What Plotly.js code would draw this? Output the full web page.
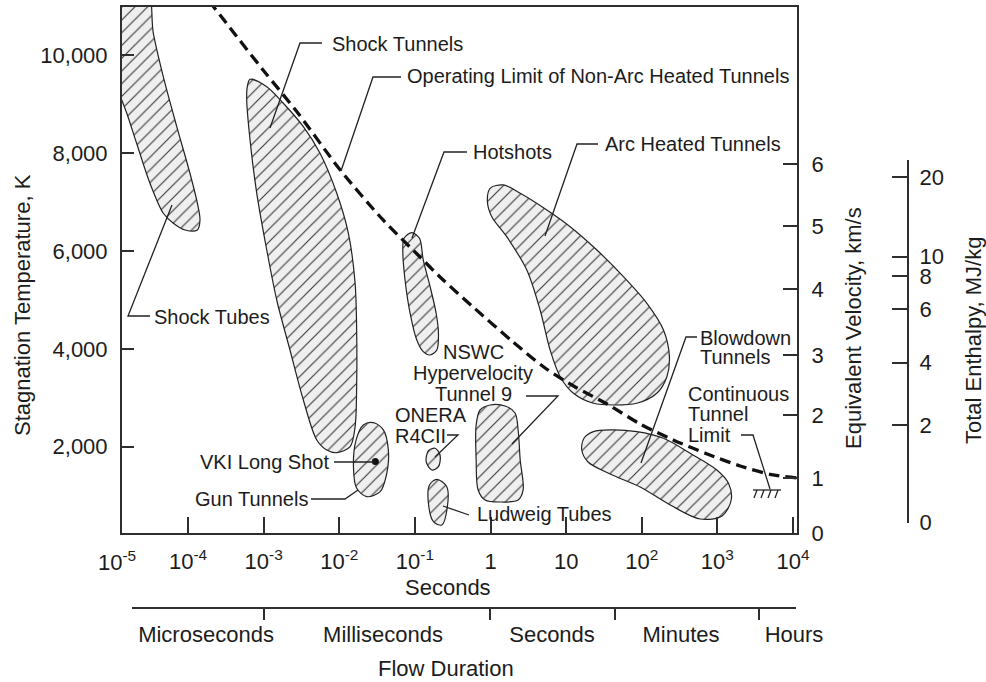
<!DOCTYPE html>
<html>
<head>
<meta charset="utf-8">
<script src="https://cdn.plot.ly/plotly-3.0.1.min.js"></script>
<style>
  html, body { margin: 0; padding: 0; background: #ffffff; }
  #chart { width: 986px; height: 682px; }
</style>
</head>
<body>
<div id="chart"></div>
<script>
// ---------------------------------------------------------------------------
// Test-facility operating envelopes: flow duration (s) vs stagnation temperature (K)
// ---------------------------------------------------------------------------
const shockTubesSec = [9.3e-6, 2.78e-5, 3.48e-5, 4.71e-5, 7.10e-5, 1.06e-4, 1.33e-4, 1.44e-4, 1.33e-4, 9.12e-5, 6.40e-5, 4.71e-5, 3.14e-5, 2.09e-5, 1.55e-5, 1.33e-5, 9.3e-6, 9.3e-6];
const shockTubesK   = [11430, 11430, 10443, 9557, 8536, 7585, 6972, 6631, 6427, 6427, 6564, 6768, 7380, 8197, 8810, 9081, 9694, 11430];

const shockTunnelsSec = [6.61e-4, 1.10e-3, 1.82e-3, 3.35e-3, 5.57e-3, 9.27e-3, 1.32e-2, 1.62e-2, 1.70e-2, 1.70e-2, 1.62e-2, 1.39e-2, 9.27e-3, 6.84e-3, 5.04e-3, 3.35e-3, 2.23e-3, 1.49e-3, 1.10e-3, 8.11e-4, 6.61e-4, 5.97e-4, 6.08e-4, 6.61e-4];
const shockTunnelsK   = [9504, 9353, 9014, 8536, 7993, 7176, 6359, 5338, 4317, 3296, 2410, 2002, 1879, 1934, 2139, 2955, 3976, 4997, 6018, 7176, 8265, 9081, 9353, 9504];

const hotshotsSec = [9.10e-2, 0.115, 0.129, 0.159, 0.191, 0.205, 0.195, 0.159, 0.129, 0.106, 8.65e-2, 7.41e-2, 6.92e-2, 7.19e-2, 9.10e-2];
const hotshotsK   = [6372, 6257, 5814, 5269, 4726, 4317, 3976, 3874, 3942, 4181, 4726, 5406, 6018, 6257, 6372];

const gunTunnelsSec = [2.82e-2, 3.83e-2, 4.46e-2, 4.25e-2, 3.47e-2, 2.31e-2, 1.70e-2, 1.54e-2, 1.67e-2, 2.08e-2, 2.82e-2];
const gunTunnelsK   = [2492, 2343, 1934, 1459, 1083, 981, 1152, 1593, 2139, 2445, 2492];

const vkiLongShotSec = [0.03];
const vkiLongShotK   = [1700];

const oneraSec = [0.185, 0.215, 0.205, 0.167, 0.141, 0.151, 0.185];
const oneraK   = [1969, 1832, 1593, 1526, 1695, 1920, 1969];

const ludwiegSec = [0.195, 0.264, 0.269, 0.227, 0.176, 0.151, 0.156, 0.195];
const ludwiegK   = [1336, 1185, 777, 403, 470, 846, 1220, 1336];

const tunnel9Sec = [0.989, 1.56, 2.11, 2.32, 2.47, 2.70, 2.32, 1.34, 0.849, 0.686, 0.646, 0.646, 0.728, 0.989];
const tunnel9K   = [2853, 2833, 2690, 2343, 1730, 1118, 913, 872, 913, 1118, 1730, 2445, 2751, 2853];

const arcHeatedSec = [0.989, 1.48, 2.47, 5.56, 11.3, 25.5, 57.3, 117, 194, 232, 215, 158, 86.1, 42.3, 23.0, 12.5, 8.34, 6.14, 4.53, 3.02, 1.64, 1.04, 0.910, 0.989];
const arcHeatedK   = [7278, 7346, 7176, 6835, 6494, 6018, 5473, 4930, 4385, 3840, 3431, 3092, 2888, 2853, 2888, 3092, 3431, 3976, 4793, 5610, 6290, 6698, 7005, 7278];

const blowdownSec = [23.0, 38.2, 86.1, 194, 437, 984, 1403, 1524, 1156, 592, 238, 95.3, 38.2, 19.5, 16.1, 17.3, 23.0];
const blowdownK   = [2308, 2343, 2308, 2173, 1867, 1526, 1254, 913, 587, 525, 811, 1179, 1444, 1689, 1934, 2179, 2308];

// Operating limit of non-arc heated tunnels
const limitSec = [1.90e-4, 3.60e-4, 9.82e-4, 2.77e-3, 1.03e-2, 3.80e-2, 0.117, 0.215, 0.589, 1.99, 5.27, 13.2, 34.8, 95.3, 260, 733, 2004, 5470, 11300];
const limitK   = [11103, 10552, 9694, 8836, 7652, 6631, 5875, 5467, 4854, 4140, 3609, 3221, 2874, 2465, 2139, 1853, 1608, 1424, 1363];

// ---------------------------------------------------------------------------
// Axis ticks
// ---------------------------------------------------------------------------
const durationTicks    = [1e-4, 1e-3, 1e-2, 1e-1, 1, 10, 100, 1000, 10000];
const durationTickText = ['10<sup>-4</sup>', '10<sup>-3</sup>', '10<sup>-2</sup>', '10<sup>-1</sup>', '1', '10', '10<sup>2</sup>', '10<sup>3</sup>', '10<sup>4</sup>'];
const firstDecadeText  = '10<sup>-5</sup>';

const temperatureTicks    = [2000, 4000, 6000, 8000, 10000];
const temperatureTickText = ['2,000', '4,000', '6,000', '8,000', '10,000'];

// equivalent velocity (km/s) and total enthalpy (MJ/kg) at their stagnation temperatures
const velocityTickText = ['0', '1', '2', '3', '4', '5', '6'];
const velocityTickK    = [240, 1356, 2649, 3874, 5216, 6508, 7768];
const enthalpyTickText = ['0', '2', '4', '6', '8', '10', '20'];
const enthalpyTickK    = [450, 2445, 3717, 4807, 5487, 5882, 7503];

// flow-duration bands
const flowBoundarySec = [1e-3, 1, 45, 3600];
const flowBandText    = ['Microseconds', 'Milliseconds', 'Seconds', 'Minutes', 'Hours'];
const flowBandSec     = [1.73e-4, 3.79e-2, 6.53, 332, 10370];

// ---------------------------------------------------------------------------
// Page geometry (pixels -> paper fractions for callouts)
// ---------------------------------------------------------------------------
const W = 986, H = 682;
const M = { l: 122, r: 74, t: 7, b: 70 };
const PW = W - M.l - M.r, PH = H - M.t - M.b;
const fx = p => (p - M.l) / PW;
const fy = p => (H - M.b - p) / PH;

const INK = '#1c1c1c';
const AXIS = '#2e2e2e';
const FONT = 'Liberation Sans, Arial, Helvetica, sans-serif';

const hatch = { shape: '/', size: 9, solidity: 0.13, fgcolor: '#3c3c3c', bgcolor: '#efefef', fillmode: 'replace' };

function region(name, sec, k) {
  return {
    type: 'scatter', mode: 'lines', name: name, x: sec, y: k,
    fill: 'toself', fillcolor: '#efefef', fillpattern: hatch,
    line: { color: '#222222', width: 1.2, shape: 'spline', smoothing: 0.9 },
    hoverinfo: 'name', showlegend: false
  };
}

const traces = [
  region('Shock Tubes', shockTubesSec, shockTubesK),
  region('Shock Tunnels', shockTunnelsSec, shockTunnelsK),
  region('Hotshots', hotshotsSec, hotshotsK),
  region('Gun Tunnels', gunTunnelsSec, gunTunnelsK),
  region('ONERA R4CII', oneraSec, oneraK),
  region('Ludweig Tubes', ludwiegSec, ludwiegK),
  region('NSWC Hypervelocity Tunnel 9', tunnel9Sec, tunnel9K),
  region('Arc Heated Tunnels', arcHeatedSec, arcHeatedK),
  region('Blowdown Tunnels', blowdownSec, blowdownK),
  {
    type: 'scatter', mode: 'lines', name: 'Operating Limit of Non-Arc Heated Tunnels',
    x: limitSec, y: limitK,
    line: { color: '#111111', width: 3.3, dash: '11px,6px', shape: 'spline', smoothing: 0.8 },
    showlegend: false
  },
  {
    type: 'scatter', mode: 'markers', name: 'VKI Long Shot',
    x: vkiLongShotSec, y: vkiLongShotK,
    marker: { size: 7, color: '#111111' }, showlegend: false
  },
  // carriers for the secondary scales
  { type: 'scatter', x: [], y: [], xaxis: 'x', yaxis: 'y2', showlegend: false, hoverinfo: 'skip' },
  { type: 'scatter', x: [], y: [], xaxis: 'x', yaxis: 'y3', showlegend: false, hoverinfo: 'skip' },
  { type: 'scatter', x: [], y: [], xaxis: 'x2', yaxis: 'y', showlegend: false, hoverinfo: 'skip' },
  { type: 'scatter', x: [], y: [], xaxis: 'x3', yaxis: 'y', showlegend: false, hoverinfo: 'skip' }
];

// ---------------------------------------------------------------------------
// Callouts: label lines (pixel anchor) and leader polylines
// ---------------------------------------------------------------------------
const callouts = [
  { lines: [['Shock Tubes', 317]], x: 152, anchor: 'left', leader: [[150, 316], [128, 316], [172, 205]] },
  { lines: [['Shock Tunnels', 44]], x: 330, anchor: 'left', leader: [[322, 43], [300, 43], [270, 128]] },
  { lines: [['Operating Limit of Non-Arc Heated Tunnels', 76]], x: 405, anchor: 'left', leader: [[401, 77], [373, 77], [341, 171]] },
  { lines: [['Hotshots', 152]], x: 471, anchor: 'left', leader: [[467, 152], [444, 152], [412, 238]] },
  { lines: [['Arc Heated Tunnels', 144]], x: 603, anchor: 'left', leader: [[598, 144], [577, 144], [545, 236]] },
  { lines: [['Blowdown', 338], ['Tunnels', 357]], x: 698, anchor: 'left', leader: [[697, 337], [686, 337], [641, 463]] },
  { lines: [['Continuous', 394], ['Tunnel', 414], ['Limit', 435]], x: 686, anchor: 'left', leader: [[741, 435], [753, 435], [770, 489]] },
  { lines: [['NSWC', 352], ['Hypervelocity', 373], ['Tunnel 9', 394]], x: 473, anchor: 'center', leader: [[526, 396], [558, 396], [512, 444]] },
  { lines: [['ONERA', 415], ['R4CII', 436]], x: 393, anchor: 'left', leader: [[447, 435], [458, 435], [435, 457]] },
  { lines: [['Ludweig Tubes', 514]], x: 475, anchor: 'left', leader: [[469, 515], [443, 506]] },
  { lines: [['VKI Long Shot', 462]], x: 331, anchor: 'right', leader: [[334, 462], [375, 462]] },
  { lines: [['Gun Tunnels', 499]], x: 193, anchor: 'left', leader: [[311, 499], [345, 499], [358, 490]] }
];

// ground symbol marking the continuous-tunnel limit
const groundSymbol = [
  [[753, 490], [781, 490]],
  [[754, 498], [757, 490]], [[761, 498], [764, 490]], [[768, 498], [771, 490]], [[775, 498], [778, 490]]
];

const pathOf = pts => pts.map((p, i) => (i ? 'L' : 'M') + fx(p[0]).toFixed(5) + ',' + fy(p[1]).toFixed(5)).join(' ');

const shapes = [];
const annotations = [];

callouts.forEach(c => {
  c.lines.forEach(([txt, y]) => {
    annotations.push({
      xref: 'paper', yref: 'paper', x: fx(c.x), y: fy(y), text: txt,
      xanchor: c.anchor, yanchor: 'middle', showarrow: false,
      font: { family: FONT, size: 20, color: INK }
    });
  });
  shapes.push({ type: 'path', xref: 'paper', yref: 'paper', path: pathOf(c.leader), line: { color: '#222222', width: 1.3 }, layer: 'above' });
});
groundSymbol.forEach(seg => {
  shapes.push({ type: 'path', xref: 'paper', yref: 'paper', path: pathOf(seg), line: { color: '#222222', width: 1.3 }, layer: 'above' });
});

// axis titles and the leading decade label
const titleFont = { family: FONT, size: 22, color: INK };
annotations.push(
  { xref: 'paper', yref: 'paper', x: fx(117), y: fy(561), text: firstDecadeText, showarrow: false, xanchor: 'center', yanchor: 'middle', font: titleFont },
  { xref: 'paper', yref: 'paper', x: fx(448), y: fy(587), text: 'Seconds', showarrow: false, xanchor: 'center', yanchor: 'middle', font: titleFont },
  { xref: 'paper', yref: 'paper', x: fx(446), y: fy(668), text: 'Flow Duration', showarrow: false, xanchor: 'center', yanchor: 'middle', font: titleFont },
  { xref: 'paper', yref: 'paper', x: fx(22), y: fy(305), text: 'Stagnation Temperature, K', textangle: -90, showarrow: false, xanchor: 'center', yanchor: 'middle', font: titleFont },
  { xref: 'paper', yref: 'paper', x: fx(853), y: fy(328), text: 'Equivalent Velocity, km/s', textangle: -90, showarrow: false, xanchor: 'center', yanchor: 'middle', font: titleFont },
  { xref: 'paper', yref: 'paper', x: fx(973), y: fy(341), text: 'Total Enthalpy, MJ/kg', textangle: -90, showarrow: false, xanchor: 'center', yanchor: 'middle', font: titleFont }
);

const tickFont = { family: FONT, size: 22, color: INK };
const tempRange = [239, 10980];

const layout = {
  width: W, height: H,
  margin: { l: M.l, r: M.r, t: M.t, b: M.b, pad: 0 },
  paper_bgcolor: '#ffffff', plot_bgcolor: 'rgba(0,0,0,0)',
  showlegend: false,
  font: { family: FONT, size: 22, color: INK },
  xaxis: {
    type: 'log', range: [-4.873, 4.053], domain: [0, fx(797)], anchor: 'y',
    tickmode: 'array', tickvals: durationTicks, ticktext: durationTickText,
    ticks: 'inside', ticklen: 16, tickwidth: 2, tickcolor: AXIS,
    showline: true, linecolor: AXIS, linewidth: 2, mirror: true,
    showgrid: false, zeroline: false, tickfont: tickFont, ticklabelstandoff: 8
  },
  yaxis: {
    range: tempRange, domain: [fy(533), 1], anchor: 'x',
    tickmode: 'array', tickvals: temperatureTicks, ticktext: temperatureTickText,
    ticks: 'inside', ticklen: 12, tickwidth: 2, tickcolor: AXIS,
    showline: true, linecolor: AXIS, linewidth: 2,
    showgrid: false, zeroline: false, tickfont: tickFont, ticklabelstandoff: 8
  },
  yaxis2: {
    range: tempRange, overlaying: 'y', side: 'right', anchor: 'x',
    tickmode: 'array', tickvals: velocityTickK, ticktext: velocityTickText,
    ticks: 'inside', ticklen: 14, tickwidth: 2, tickcolor: AXIS,
    showline: true, linecolor: AXIS, linewidth: 2,
    showgrid: false, zeroline: false, tickfont: tickFont, ticklabelstandoff: 8
  },
  yaxis3: {
    range: [444, 7856], domain: [fy(523), fy(160)], anchor: 'free', position: fx(908), side: 'right',
    tickmode: 'array', tickvals: enthalpyTickK, ticktext: enthalpyTickText,
    ticks: 'inside', ticklen: 15, tickwidth: 2, tickcolor: AXIS,
    showline: true, linecolor: AXIS, linewidth: 2,
    showgrid: false, zeroline: false, tickfont: tickFont, ticklabelstandoff: 6
  },
  xaxis2: {
    type: 'log', range: [-4.741, 4.042], domain: [fx(132), fx(796)], anchor: 'free', position: fy(608),
    tickmode: 'array', tickvals: flowBandSec, ticktext: flowBandText,
    ticks: '', showline: true, linecolor: AXIS, linewidth: 2,
    showgrid: false, zeroline: false, tickfont: tickFont, ticklabelstandoff: 7
  },
  xaxis3: {
    type: 'log', range: [-4.741, 4.042], overlaying: 'x2', anchor: 'free', position: fy(608),
    tickmode: 'array', tickvals: flowBoundarySec, showticklabels: false,
    ticks: 'outside', ticklen: 11, tickwidth: 2, tickcolor: AXIS,
    showline: false, showgrid: false, zeroline: false
  },
  shapes: shapes,
  annotations: annotations
};

Plotly.newPlot('chart', traces, layout, { displayModeBar: false, staticPlot: true });
</script>
</body>
</html>
